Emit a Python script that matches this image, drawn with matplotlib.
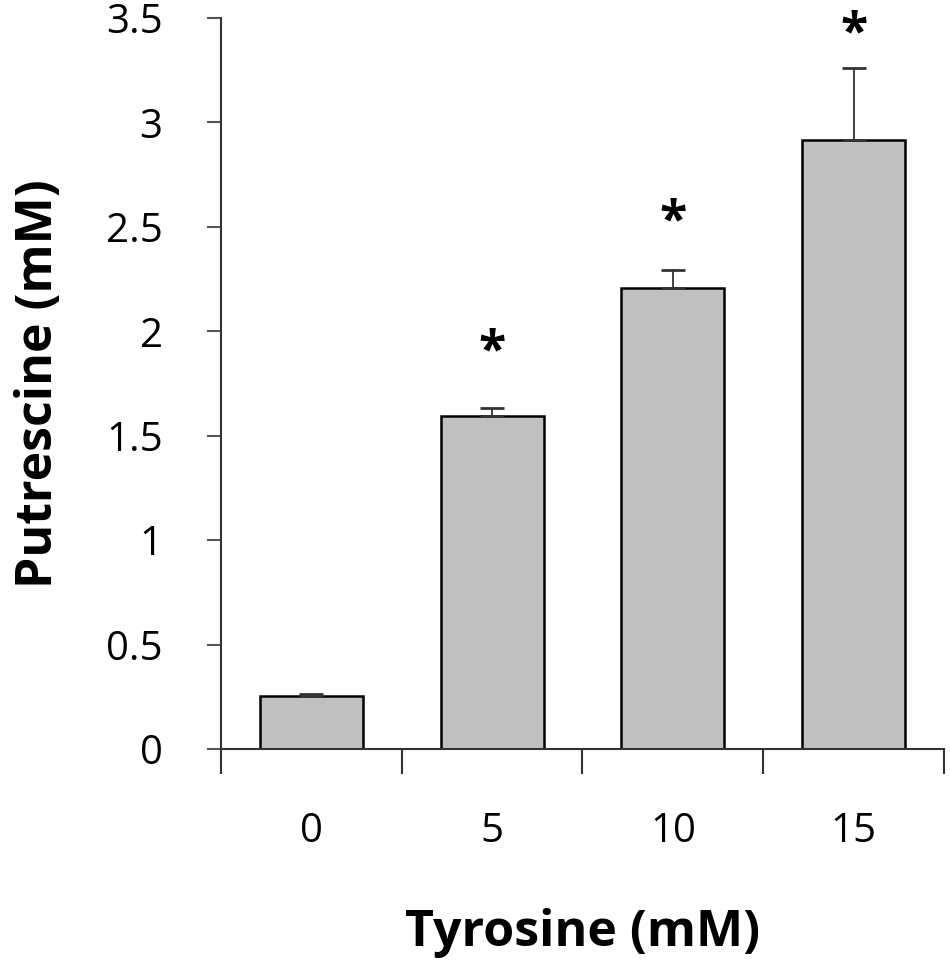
import matplotlib
matplotlib.use("Agg")
import matplotlib.pyplot as plt

tyrosine = ["0", "5", "10", "15"]
putrescine = [0.255, 1.595, 2.205, 2.915]
err_up = [0.01, 0.04, 0.09, 0.345]
star_y = [None, 1.90, 2.52, 3.42]
yticks = [0, 0.5, 1, 1.5, 2, 2.5, 3, 3.5]
ytick_labels = ["0", "0.5", "1", "1.5", "2", "2.5", "3", "3.5"]

plt.rcParams['font.family'] = ['Open Sans', 'DejaVu Sans']

fig = plt.figure(figsize=(9.5, 9.61), dpi=100)
ax = fig.add_axes([0.2326, 0.2206, 0.7611, 0.7607])

pos = [i + 0.5 for i in range(len(tyrosine))]
ax.bar(pos, putrescine, width=0.57, color="#c0c0c0", edgecolor="black", linewidth=1.8, zorder=2)
ax.errorbar(pos, putrescine, yerr=[[0] * 4, err_up], fmt="none", ecolor="#333333",
            elinewidth=1.3, capsize=8.5, capthick=2, zorder=3)

for p, s in zip(pos, star_y):
    if s is not None:
        ax.text(p, s, "*", ha="center", va="center", fontsize=36, fontweight="bold")

ax.set_xlim(0, 4)
ax.set_ylim(0, 3.5)
ax.set_xticks([0, 1, 2, 3, 4])
ax.set_xticklabels([])
ax.set_xticks(pos, minor=True)
ax.set_xticklabels(tyrosine, minor=True)
ax.tick_params(axis="x", which="major", direction="out", length=18, width=1.5, color="#333333")
ax.tick_params(axis="x", which="minor", length=0, labelsize=29, pad=45)
ax.set_yticks(yticks)
ax.set_yticklabels(ytick_labels)
ax.tick_params(axis="y", direction="out", length=10, width=1.5, color="#555555", labelsize=29, pad=32)

for side in ["top", "right"]:
    ax.spines[side].set_visible(False)
for side in ["left", "bottom"]:
    ax.spines[side].set_linewidth(1.5)
    ax.spines[side].set_color("#333333")

ax.set_xlabel("Tyrosine (mM)", fontsize=36, fontweight="bold", labelpad=40)
ax.set_ylabel("Putrescine (mM)", fontsize=36, fontweight="bold", labelpad=30)

fig.savefig("out.png", dpi=100, facecolor="white")
